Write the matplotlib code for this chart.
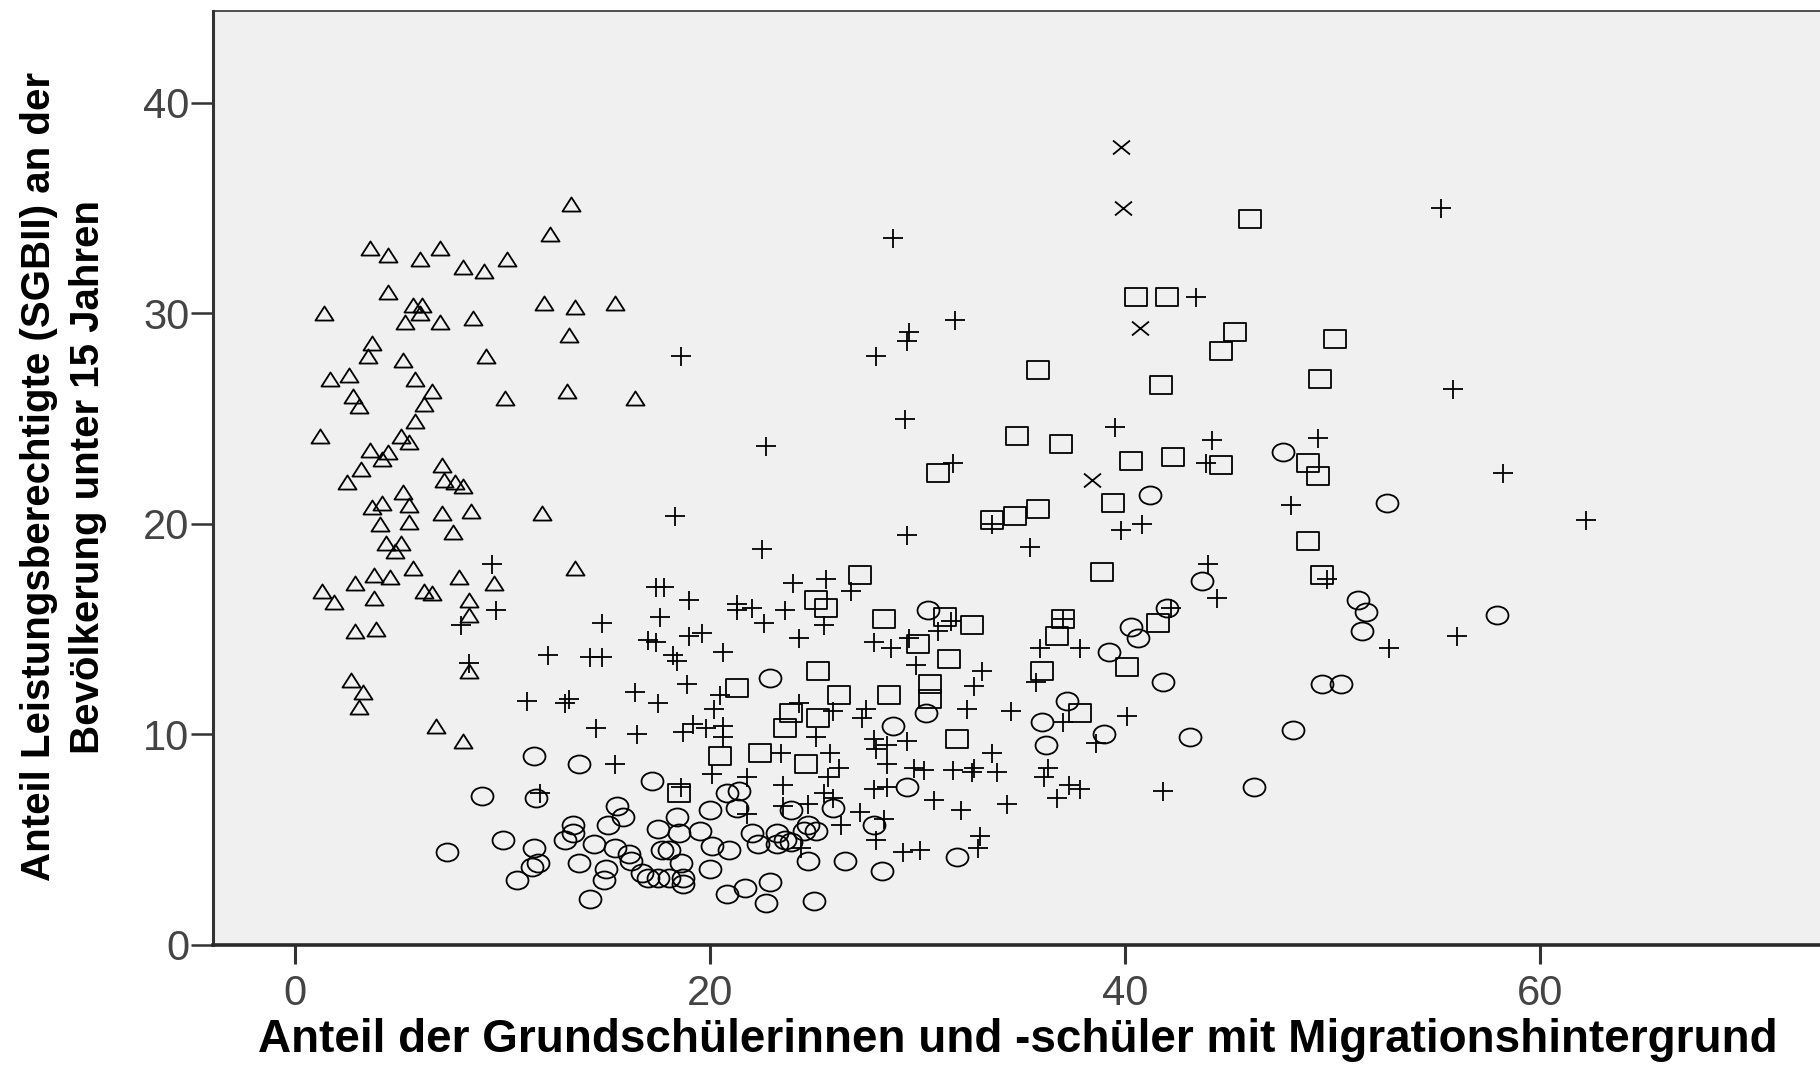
import matplotlib
matplotlib.use("Agg")
import matplotlib.pyplot as plt
from matplotlib.path import Path

plt.rcParams['font.family'] = ['Liberation Sans', 'DejaVu Sans']

# values, one group per marker symbol
tri_x = [13.3, 12.3, 3.6, 4.5, 6.0, 7.0, 8.1, 9.1, 10.2, 4.5, 1.4, 5.7, 6.1, 6.0, 5.3, 7.0, 8.6,
         12.0, 13.5, 15.4, 13.2, 3.7, 3.5, 5.2, 9.2, 1.7, 2.6, 5.8, 6.6, 2.8, 3.1, 6.2, 10.1, 13.1,
         16.4, 5.8, 1.2, 5.1, 5.5, 3.6, 4.5, 4.2, 3.2, 2.5, 7.1, 7.2, 7.7, 8.1, 5.2, 4.2, 3.7, 5.5,
         7.1, 8.5, 11.9, 4.1, 5.5, 7.6, 4.4, 5.1, 4.8, 5.7, 3.8, 4.6, 7.9, 9.6, 13.5, 2.9, 1.3, 1.9,
         3.8, 6.2, 6.6, 8.4, 8.4, 2.9, 3.9, 8.4, 2.7, 3.3, 3.1, 6.8, 8.1]
tri_y = [35.2, 33.8, 33.1, 32.8, 32.6, 33.1, 32.2, 32.0, 32.6, 31.0, 30.0, 30.4, 30.4, 30.0, 29.6,
         29.6, 29.8, 30.5, 30.3, 30.5, 29.0, 28.6, 28.0, 27.8, 28.0, 26.9, 27.1, 26.9, 26.3, 26.1,
         25.6, 25.7, 26.0, 26.3, 26.0, 24.9, 24.2, 24.2, 23.9, 23.5, 23.4, 23.1, 22.6, 22.0, 22.8,
         22.1, 22.0, 21.8, 21.5, 21.0, 20.8, 20.9, 20.5, 20.6, 20.5, 20.0, 20.1, 19.6, 19.1, 19.1,
         18.7, 17.9, 17.6, 17.5, 17.5, 17.2, 17.9, 17.2, 16.8, 16.3, 16.5, 16.8, 16.7, 16.4, 15.7,
         14.9, 15.0, 13.0, 12.6, 12.0, 11.3, 10.4, 9.7]

sq_x = [46.0, 40.5, 42.0, 45.3, 44.6, 50.1, 49.4, 35.8, 41.7, 34.8, 36.9, 40.3, 42.3, 44.6, 48.8,
        49.3, 31.0, 39.4, 33.6, 34.7, 35.8, 48.8, 49.5, 38.9, 27.2, 25.1, 25.6, 28.4, 31.3, 32.6,
        30.0, 31.5, 37.0, 36.7, 41.6, 36.0, 40.1, 37.8, 21.3, 25.2, 26.2, 28.6, 30.6, 30.6, 23.9,
        23.6, 25.2, 20.5, 22.4, 24.6, 31.9, 18.5]
sq_y = [34.5, 30.8, 30.8, 29.1, 28.2, 28.8, 26.9, 27.3, 26.6, 24.2, 23.8, 23.0, 23.2, 22.8, 22.9,
        22.3, 22.4, 21.0, 20.2, 20.4, 20.7, 19.2, 17.6, 17.7, 17.6, 16.4, 16.0, 15.5, 15.6, 15.2,
        14.3, 13.6, 15.5, 14.7, 15.3, 13.0, 13.2, 11.0, 12.2, 13.0, 11.9, 11.9, 12.4, 11.7, 11.0,
        10.3, 10.8, 9.0, 9.1, 8.6, 9.8, 7.2]

circ_x = [11.5, 13.7, 17.2, 9.0, 11.6, 10.0, 7.3, 11.5, 11.7, 11.4, 10.7, 13.4, 13.4, 13.0, 14.4,
          13.7, 14.2, 15.1, 15.5, 15.8, 15.4, 16.1, 16.2, 15.0, 14.9, 16.7, 17.5, 18.4, 18.5, 17.7,
          18.0, 17.0, 17.5, 18.0, 18.6, 18.7, 18.7, 19.5, 20.0, 20.0, 20.1, 30.5, 22.9, 30.4, 28.8,
          29.5, 20.8, 21.4, 21.3, 20.9, 20.8, 21.7, 22.9, 22.7, 25.0, 22.0, 22.3, 23.2, 23.2, 23.6,
          23.9, 23.9, 24.7, 25.1, 24.5, 25.9, 24.7, 26.5, 28.3, 27.9, 31.9, 43.7, 42.0, 40.3, 40.6,
          39.2, 41.8, 37.2, 36.0, 36.2, 39.0, 43.1, 48.1, 46.2, 41.2, 47.6, 52.6, 51.2, 51.6, 51.4,
          57.9, 49.5, 50.4]
circ_y = [9.0, 8.6, 7.8, 7.1, 7.0, 5.0, 4.4, 4.6, 3.9, 3.7, 3.1, 5.7, 5.3, 5.0, 4.8, 3.9, 2.2, 5.7,
          6.6, 6.1, 4.6, 4.3, 4.0, 3.6, 3.1, 3.4, 5.5, 6.1, 5.3, 4.5, 4.5, 3.2, 3.2, 3.2, 3.9, 3.2,
          2.9, 5.4, 3.6, 6.4, 4.7, 15.9, 12.7, 11.0, 10.4, 7.5, 7.2, 7.3, 6.5, 4.5, 2.4, 2.7, 3.0,
          2.0, 2.1, 5.3, 4.8, 5.3, 4.8, 5.0, 4.9, 6.4, 5.7, 5.4, 5.4, 6.5, 4.0, 4.0, 3.5, 5.7, 4.2,
          17.3, 16.0, 15.1, 14.6, 13.9, 12.5, 11.6, 10.6, 9.5, 10.0, 9.9, 10.2, 7.5, 21.4, 23.4,
          21.0, 16.4, 15.8, 14.9, 15.7, 12.4, 12.4]

plus_x = [18.6, 18.3, 9.5, 9.7, 8.0, 8.4, 12.2, 14.2, 14.8, 14.8, 17.4, 17.8, 19.0, 17.6, 17.0,
          17.4, 19.0, 19.6, 18.2, 18.4, 18.9, 11.2, 13.2, 13.0, 16.4, 17.5, 14.5, 16.5, 18.7, 19.2,
          19.8, 20.2, 15.4, 18.6, 11.8, 20.1, 22.5, 29.5, 33.6, 24.0, 25.6, 26.8, 21.3, 21.3, 22.0,
          22.6, 23.6, 25.5, 24.3, 20.6, 27.9, 28.7, 29.6, 31.0, 31.6, 29.9, 33.1, 32.7, 32.4, 34.5,
          20.5, 20.6, 20.6, 24.3, 25.9, 27.5, 27.3, 25.1, 23.4, 25.8, 26.2, 25.7, 27.9, 28.0, 28.5,
          29.5, 28.5, 29.8, 30.3, 31.7, 32.6, 32.7, 33.8, 33.6, 21.8, 23.5, 27.9, 28.5, 25.5, 25.9,
          23.5, 24.7, 21.8, 27.2, 26.3, 28.4, 28.0, 30.8, 32.1, 34.3, 33.0, 32.9, 29.3, 30.1, 24.4,
          39.8, 40.8, 35.4, 44.0, 44.4, 42.2, 37.0, 35.9, 37.8, 35.7, 37.0, 40.1, 38.6, 36.3, 36.1,
          37.3, 37.8, 36.7, 41.8, 28.8, 43.4, 31.8, 29.6, 29.5, 28.0, 29.4, 22.7, 39.5, 44.2, 43.9,
          31.7, 55.2, 55.8, 49.3, 58.2, 48.0, 62.2, 49.7, 52.7, 56.0]
plus_y = [28.0, 20.4, 18.1, 15.9, 15.2, 13.4, 13.8, 13.7, 13.7, 15.3, 17.0, 17.0, 16.4, 15.6, 14.5,
          14.4, 14.7, 14.8, 13.8, 13.5, 12.4, 11.6, 11.7, 11.5, 12.0, 11.5, 10.3, 10.0, 10.1, 10.5,
          10.3, 11.2, 8.6, 7.5, 7.2, 8.1, 18.8, 19.5, 20.0, 17.2, 17.4, 16.8, 16.2, 15.9, 16.0,
          15.3, 15.9, 15.2, 14.6, 13.9, 14.4, 14.1, 14.6, 14.9, 15.4, 13.3, 13.0, 12.3, 11.2, 11.1,
          11.9, 10.4, 9.9, 11.5, 11.1, 11.2, 10.8, 9.9, 9.1, 9.1, 8.4, 8.0, 9.8, 9.3, 9.5,
          9.7, 8.6, 8.4, 8.3, 8.3, 8.2, 8.4, 8.2, 9.1, 8.0, 7.6, 7.4, 7.5, 7.2, 7.0,
          6.6, 6.7, 6.2, 6.3, 5.7, 6.0, 5.0, 6.9, 6.4, 6.7, 5.2, 4.6, 4.4, 4.5, 4.6,
          19.7, 20.0, 18.9, 18.1, 16.5, 16.0, 15.5, 14.1, 14.1, 12.5, 10.6, 10.9, 9.6, 8.4, 8.0,
          7.6, 7.4, 7.0, 7.3, 33.6, 30.8, 29.7, 29.1, 28.7, 28.0, 25.0, 23.7, 24.6, 24.0, 22.9,
          22.9, 35.0, 26.4, 24.1, 22.4, 20.9, 20.2, 17.4, 14.1, 14.7]

cross_x = [39.8, 39.9, 40.7, 38.4]
cross_y = [37.9, 35.0, 29.3, 22.1]

x_ticks = [0, 20, 40, 60]
y_ticks = [0, 10, 20, 30, 40]
x_title = "Anteil der Grundschülerinnen und -schüler mit Migrationshintergrund"
y_title_1 = "Anteil Leistungsberechtigte (SGBII) an der"
y_title_2 = "Bevölkerung unter 15 Jahren"

# the original symbols are a bit wider than tall
M, L, C = Path.MOVETO, Path.LINETO, Path.CLOSEPOLY
unit = Path.unit_circle()
ellipse = Path(unit.vertices * [1, 0.82], unit.codes)
triangle = Path([(-1, -0.78), (1, -0.78), (0, 0.78), (-1, -0.78)], [M, L, L, C])
square = Path([(-1, -0.8), (1, -0.8), (1, 0.8), (-1, 0.8), (-1, -0.8)], [M, L, L, L, C])
plus = Path([(-1, 0), (1, 0), (0, -0.95), (0, 0.95)], [M, L, M, L])
cross = Path([(-1, -0.82), (1, 0.82), (-1, 0.82), (1, -0.82)], [M, L, M, L])

W, H = 1820, 1079
fig = plt.figure(figsize=(W / 100, H / 100), dpi=100)
ax = fig.add_axes([213 / W, 1 - 945 / H, (1833 - 213) / W, (945 - 11) / H])
ax.set_facecolor('#f0f0f0')

style = dict(linestyle='none', mfc='none', mec='black', mew=1.3)
ax.plot(circ_x, circ_y, marker=ellipse, ms=15.8, **style)
ax.plot(sq_x, sq_y, marker=square, ms=15.8, **style)
ax.plot(plus_x, plus_y, marker=plus, ms=14.4, **style)
ax.plot(tri_x, tri_y, marker=triangle, ms=13.0, **style)
ax.plot(cross_x, cross_y, marker=cross, ms=12.2, **style)

ax.set_xlim(-3.95, 74.1)
ax.set_ylim(0, 44.37)
ax.set_xticks(x_ticks)
ax.set_yticks(y_ticks)
ax.tick_params(axis='y', length=16, width=1.8, color='#333333', pad=1,
               labelsize=30, labelcolor='#444444')
ax.tick_params(axis='x', length=14, width=2.2, color='#333333', pad=7,
               labelsize=30, labelcolor='#444444')

ax.spines['right'].set_visible(False)
ax.spines['top'].set_linewidth(1.2)
ax.spines['top'].set_color('#333333')
ax.spines['left'].set_linewidth(2.2)
ax.spines['left'].set_color('#333333')
ax.spines['bottom'].set_linewidth(2.6)
ax.spines['bottom'].set_color('#2a2a2a')

fig.text(1018 / W, 1 - 1052 / H, x_title, ha='center', va='baseline',
         fontsize=33, fontweight='bold', color='black')
fig.text(50 / W, 1 - 476 / H, y_title_1, rotation=90, rotation_mode='anchor',
         ha='center', va='baseline', fontsize=29, fontweight='bold', color='black')
fig.text(99 / W, 1 - 477 / H, y_title_2, rotation=90, rotation_mode='anchor',
         ha='center', va='baseline', fontsize=29, fontweight='bold', color='black')

fig.savefig('out.png', dpi=100)
